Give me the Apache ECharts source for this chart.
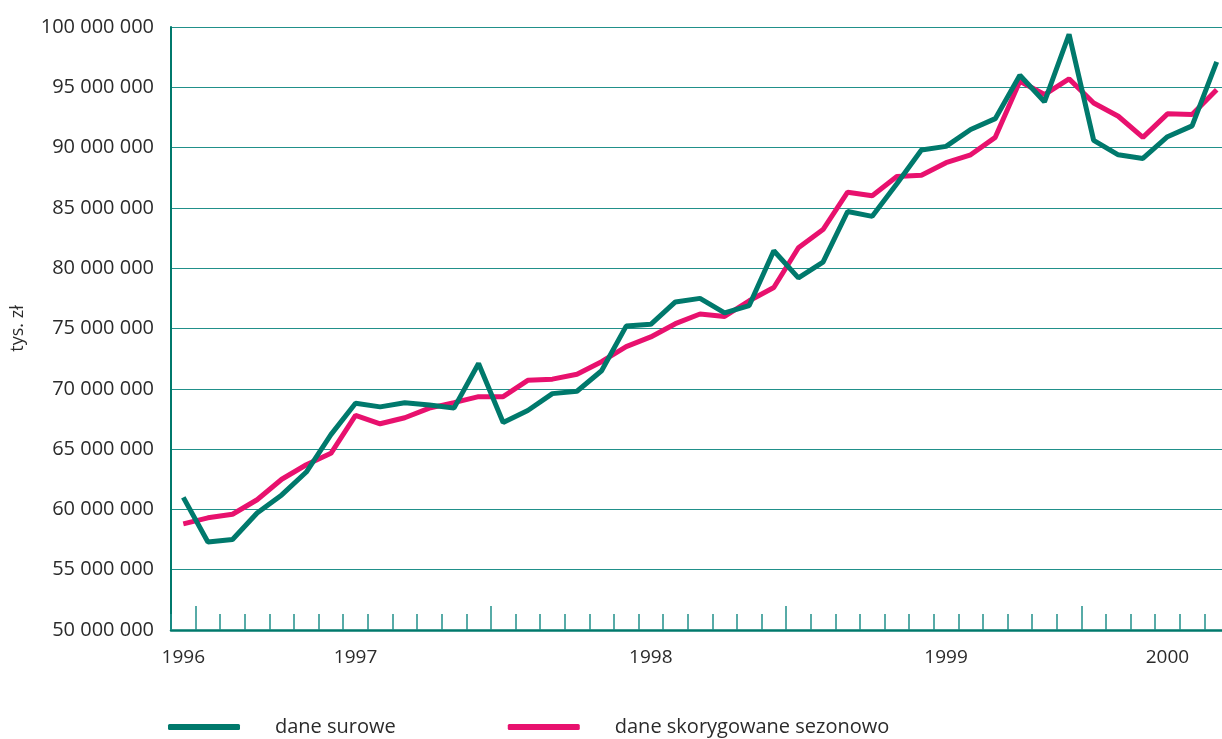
<!DOCTYPE html>
<html>
<head>
<meta charset="utf-8">
<style>
  html, body { margin: 0; padding: 0; background: #fff; }
  #chart { width: 1222px; height: 739px; }
</style>
<script src="https://cdn.jsdelivr.net/npm/echarts@6/dist/echarts.min.js"></script>
</head>
<body>
<div id="chart"></div>
<script>
// monthly periods on the x axis
const months = [
  '1996-01', '1996-02', '1996-03', '1996-04', '1996-05', '1996-06', '1996-07', '1996-08', '1996-09', '1996-10', '1996-11', '1996-12',
  '1997-01', '1997-02', '1997-03', '1997-04', '1997-05', '1997-06', '1997-07', '1997-08', '1997-09', '1997-10', '1997-11', '1997-12',
  '1998-01', '1998-02', '1998-03', '1998-04', '1998-05', '1998-06', '1998-07', '1998-08', '1998-09', '1998-10', '1998-11', '1998-12',
  '1999-01', '1999-02', '1999-03', '1999-04', '1999-05', '1999-06', '1999-07'
]

// year labels and the category index they sit under
const yearLabels = ['1996', '1997', '1998', '1999', '2000']
const yearLabelIdx = [0, 7, 19, 31, 40]

// tys. zł
const rawData = [
  61.0, 57.3, 57.5, 59.7, 61.2, 63.1, 66.2, 68.8, 68.5, 68.85, 68.65, 68.4,
  72.1, 67.2, 68.2, 69.6, 69.8, 71.5, 75.2, 75.35, 77.2, 77.5, 76.3, 76.9,
  81.45, 79.2, 80.5, 84.7, 84.3, 87.0, 89.8, 90.1, 91.5, 92.4, 96.0, 93.8,
  99.4, 90.6, 89.4, 89.1, 90.9, 91.8, 97.1
].map(v => v * 1e6)

const adjustedData = [
  58.8, 59.3, 59.6, 60.8, 62.5, 63.7, 64.65, 67.8, 67.1, 67.6, 68.4, 68.85,
  69.35, 69.35, 70.7, 70.8, 71.2, 72.25, 73.5, 74.3, 75.4, 76.2, 76.0, 77.3,
  78.4, 81.7, 83.2, 86.3, 86.0, 87.6, 87.7, 88.75, 89.4, 90.85, 95.5, 94.4,
  95.7, 93.7, 92.6, 90.85, 92.8, 92.75, 94.8
].map(v => v * 1e6)

const seriesNames = ['dane surowe', 'dane skorygowane sezonowo']

const teal = '#00796c'
const gridTeal = '#21908a'
const pink = '#e8116e'
const textColor = '#2b2b2b'
const font = '"Open Sans", sans-serif'

const chart = echarts.init(document.getElementById('chart'))

function fmt(v) {
  return String(v).replace(/\B(?=(\d{3})+(?!\d))/g, ' ')
}

const option = {
  animation: false,
  grid: {
    left: 171,
    top: 27,
    width: 1058,
    height: 603,
    outerBoundsMode: 'none'
  },
  legend: {
    left: 163,
    top: 712,
    icon: 'roundRect',
    itemWidth: 72,
    itemHeight: 6,
    itemGap: 112,
    data: seriesNames,
    textStyle: {
      fontFamily: font,
      fontSize: 20,
      color: textColor,
      padding: [0, 0, 0, 30]
    }
  },
  xAxis: [
    {
      type: 'category',
      data: months,
      boundaryGap: true,
      position: 'bottom',
      axisLine: { show: true, lineStyle: { color: teal, width: 2.5 } },
      axisTick: {
        show: true,
        inside: true,
        length: 16,
        interval: 0,
        lineStyle: { color: gridTeal, width: 1.5 }
      },
      axisLabel: {
        margin: 18,
        fontFamily: font,
        fontSize: 19,
        color: textColor,
        interval: (i) => yearLabelIdx.includes(i),
        formatter: (v, i) => yearLabels[yearLabelIdx.indexOf(i)] || ''
      },
      splitLine: { show: false }
    },
    {
      type: 'category',
      data: months,
      boundaryGap: true,
      position: 'bottom',
      axisLine: { show: false },
      axisTick: {
        show: true,
        inside: true,
        length: 24,
        interval: (i) => i % 12 === 1,
        lineStyle: { color: gridTeal, width: 1.5 }
      },
      axisLabel: { show: false },
      splitLine: { show: false }
    }
  ],
  yAxis: {
    type: 'value',
    min: 50000000,
    max: 100000000,
    interval: 5000000,
    name: 'tys. zł',
    nameLocation: 'middle',
    nameGap: 144,
    nameTextStyle: { fontFamily: font, fontSize: 18, color: textColor },
    axisLine: { show: true, lineStyle: { color: teal, width: 2 } },
    axisTick: { show: false },
    axisLabel: {
      margin: 17,
      fontFamily: font,
      fontSize: 20,
      color: textColor,
      formatter: fmt
    },
    splitLine: { lineStyle: { color: gridTeal, width: 1.2 } }
  },
  series: [
    {
      name: seriesNames[0],
      type: 'line',
      data: rawData,
      symbol: 'none',
      z: 3,
      itemStyle: { color: teal },
      lineStyle: { color: teal, width: 5 }
    },
    {
      name: seriesNames[1],
      type: 'line',
      data: adjustedData,
      symbol: 'none',
      z: 2,
      itemStyle: { color: pink },
      lineStyle: { color: pink, width: 5 }
    }
  ]
}

chart.setOption(option)
</script>
</body>
</html>
